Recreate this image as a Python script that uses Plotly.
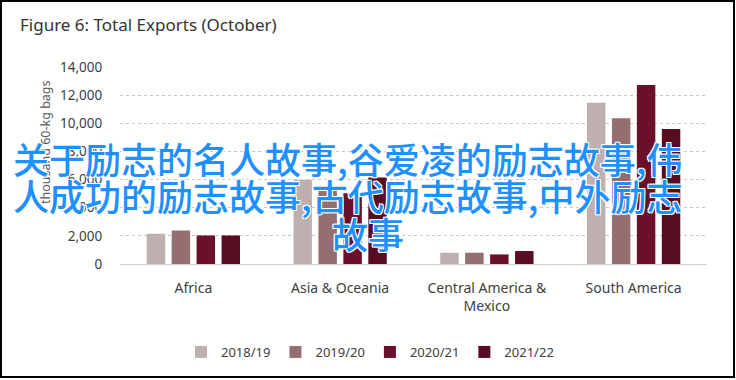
import plotly.graph_objects as go

W, H = 736, 380
PL, PR, PT, PB = 120, 707, 67, 264  # plot area in pixels

categories = ["Africa", "Asia & Oceania", "Central America &<br>Mexico", "South America"]
seasons = ["2018/19", "2019/20", "2020/21", "2021/22"]
v_2018_19 = [2150, 5980, 800, 11460]
v_2019_20 = [2380, 5200, 800, 10350]
v_2020_21 = [2030, 5030, 680, 12720]
v_2021_22 = [2030, 6140, 920, 9600]
series = [v_2018_19, v_2019_20, v_2020_21, v_2021_22]
colors = ["#bfb0b0", "#946e70", "#6b1029", "#580c20"]
y_ticks = [0, 2000, 4000, 6000, 8000, 10000, 12000, 14000]
y_ticklabels = ["0", "2,000", "4,000", "6,000", "8,000", "10,000", "12,000", "14,000"]

title_text = "Figure 6: Total Exports (October)"
y_title = "thousand 60-kg bags"
overlay_lines = ["关于励志的名人故事,谷爱凌的励志故事,伟",
                 "人成功的励志故事,古代励志故事,中外励志",
                 "故事"]

FONT = "Noto Sans"


def px_x(p):
    return (p - PL) / (PR - PL)


def px_y(p):
    return (PB - p) / (PB - PT)


fig = go.Figure()
for name, vals, c in zip(seasons, series, colors):
    fig.add_trace(go.Bar(x=categories, y=vals, name=name, marker=dict(color=c, line=dict(width=0))))

fig.update_layout(
    width=W, height=H,
    margin=dict(l=PL, r=W - PR, t=PT, b=H - PB, pad=0, autoexpand=False),
    paper_bgcolor="white", plot_bgcolor="white",
    barmode="group", bargap=0.32, bargroupgap=0.26,
    font=dict(family=FONT, size=13, color="#404040"),
    title=dict(text=title_text, x=20 / W, xanchor="left", xref="container",
               y=1 - 25 / H, yanchor="middle", yref="container",
               font=dict(family=FONT, size=17, color="#333333")),
    showlegend=True,
    legend=dict(orientation="h", x=px_x(370), xanchor="center", y=px_y(352), yanchor="middle",
                font=dict(family=FONT, size=13, color="#404040"), itemwidth=30,
                bgcolor="rgba(0,0,0,0)"),
    xaxis=dict(showgrid=False, showline=True, linecolor="#d0d0d0", linewidth=1,
               ticks="outside", ticklen=11, tickcolor="rgba(0,0,0,0)",
               tickfont=dict(family=FONT, size=14, color="#404040")),
    yaxis=dict(range=[0, 14000], tickvals=y_ticks, ticktext=y_ticklabels,
               showgrid=True, gridcolor="#c8c8c8", griddash="dot", gridwidth=1,
               zeroline=False, showline=False,
               ticks="outside", ticklen=14, tickcolor="rgba(0,0,0,0)",
               tickfont=dict(family=FONT, size=13.5, color="#404040")),
)

# y-axis title
fig.add_annotation(text=y_title, xref="paper", yref="paper", x=px_x(45), y=px_y(142),
                   textangle=-90, showarrow=False, xanchor="center", yanchor="middle",
                   font=dict(family=FONT, size=12.5, color="#595959"))

# overlay text
shadow = "1px 1px 0 white, -1px -1px 0 white, 1px -1px 0 white, -1px 1px 0 white"
pos = [(347, 158), (347, 195), (368, 233)]
for line, (cx, cy) in zip(overlay_lines, pos):
    fig.add_annotation(text=line, xref="paper", yref="paper", x=px_x(cx), y=px_y(cy),
                       showarrow=False, xanchor="center", yanchor="middle",
                       font=dict(family="Noto Sans CJK SC", size=36, color="#1e90ff",
                                 weight=500, shadow=shadow))

# outer border
fig.add_shape(type="rect", xref="paper", yref="paper",
              x0=px_x(1), x1=px_x(734), y0=px_y(377), y1=px_y(1),
              line=dict(color="black", width=2), fillcolor="rgba(0,0,0,0)", layer="above")

fig.write_html("out.html", config={"displayModeBar": False},
               post_script="document.body.style.margin='0';document.body.style.overflow='hidden';")
